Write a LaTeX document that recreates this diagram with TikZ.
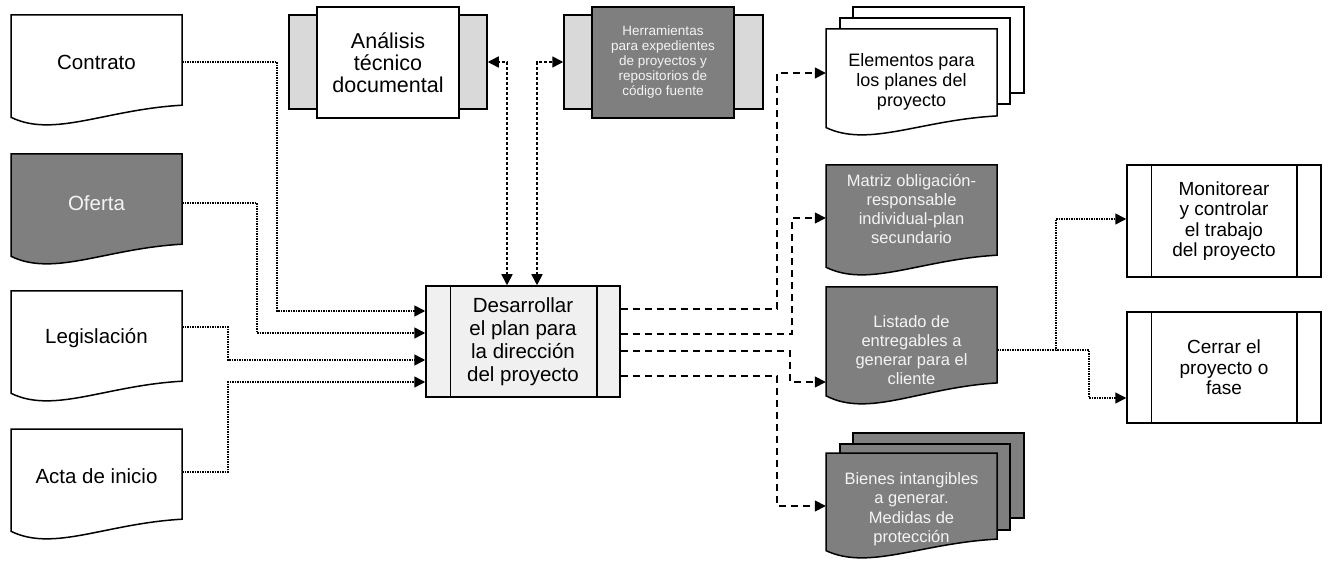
\documentclass[tikz,border=0pt]{standalone}
\usepackage{fontspec}
\setmainfont{Liberation Sans}
\usetikzlibrary{arrows.meta,calc}
\definecolor{dk}{HTML}{7F7F7F}
\definecolor{lt}{HTML}{D9D9D9}
\definecolor{pr}{HTML}{F0F0F0}
\definecolor{wt}{HTML}{F4F4F4}
\newcommand\fsA{\fontsize{20.5}{22}\selectfont}
\newcommand\fsB{\fontsize{21.5}{22}\selectfont}
\newcommand\fsH{\fontsize{13.5}{15}\selectfont}
\newcommand\fsP{\fontsize{20.5}{23}\selectfont}
\newcommand\fsE{\fontsize{18}{20}\selectfont}
\newcommand\fsM{\fontsize{16.5}{18.8}\selectfont}
\newcommand\fsBi{\fontsize{16.5}{19.5}\selectfont}
\newcommand\fsMo{\fontsize{19}{20.5}\selectfont}
\newcommand\docpath[5]{%
 \pgfmathsetmacro\dxb{#1+#3}%
 \pgfmathsetmacro\dyr{#2+0.82*#4}%
 \pgfmathsetmacro\dyl{#2+0.93*#4}%
 \pgfmathsetmacro\dcxa{#1+0.25*#3}%
 \pgfmathsetmacro\dcya{#2+1.12*#4}%
 \pgfmathsetmacro\dcxb{#1+0.55*#3}%
 \pgfmathsetmacro\dcyb{#2+0.86*#4}%
 \path[shapeline,fill=#5] (#1,#2) -- (\dxb,#2) -- (\dxb,\dyr) .. controls (\dcxb,\dcyb) and (\dcxa,\dcya) .. (#1,\dyl) -- cycle;}
\tikzset{
 shapeline/.style={draw=black, line width=1.5pt, line join=miter},
 boxn/.style={draw=black, line width=1.5pt, inner sep=0pt, align=center},
 docn/.style={inner sep=0pt, minimum width=171pt, align=center},
 dotarrow/.style={line width=1.5pt, dash pattern=on 1.4pt off 1.1pt, -{Triangle[length=11pt,width=11pt]}},
 dasharrow/.style={line width=1.6pt, dash pattern=on 7pt off 5pt, -{Triangle[length=11pt,width=11pt]}},
 sdash/.style={line width=1.6pt, dash pattern=on 3pt off 2pt, {Triangle[length=11pt,width=11pt]}-{Triangle[length=11pt,width=11pt]}}
}
\begin{document}
\begin{tikzpicture}[x=1pt,y=-1pt]
\useasboundingbox (0,0) rectangle (1330,561);
\fill[white] (0,0) rectangle (1330,561);
% left documents
\docpath{11}{15}{171}{110}{white}
\node[docn, font=\fsA] (contrato) at (96.5,62) {Contrato};
\docpath{11}{154}{171}{110}{dk}
\node[docn, font=\fsA, text=wt] (oferta) at (96.5,203) {Oferta};
\docpath{11}{291}{171}{110}{white}
\node[docn, font=\fsA] (legis) at (96.5,338) {Legislación};
\docpath{11}{429}{171}{110}{white}
\node[docn, font=\fsA] (acta) at (96.5,476) {Acta de inicio};
% top processes
\node[boxn, fill=lt, minimum width=198pt, minimum height=94pt] (anabg) at (388,62) {};
\node[boxn, fill=white, minimum width=142pt, minimum height=111pt, font=\fsB] (ana) at (388,62.5) {Análisis\\técnico\\documental};
\node[boxn, fill=lt, minimum width=199pt, minimum height=94pt] (herbg) at (663.5,62) {};
\node[boxn, fill=dk, text=wt, minimum width=142pt, minimum height=111pt, font=\fsH] (her) at (663,62.5) {Herramientas\\para expedientes\\de proyectos y\\repositorios de\\código fuente};
% central process
\node[boxn, fill=pr, minimum width=194pt, minimum height=111pt, font=\fsP] (proc) at (523,341.5) {Desarrollar\\el plan para\\la dirección\\del proyecto};
\draw[shapeline] ([xshift=25pt]proc.north west) -- ([xshift=25pt]proc.south west);
\draw[shapeline] ([xshift=-24pt]proc.north east) -- ([xshift=-24pt]proc.south east);
% right documents
\path[shapeline, fill=white] (853,7) rectangle (1024,93);
\path[shapeline, fill=white] (840,18) rectangle (1010,104);
\docpath{826}{29}{171}{106}{white}
\node[docn, font=\fsE] (elem) at (911.5,82) {Elementos para\\los planes del\\proyecto};
\docpath{826}{165}{171}{110}{dk}
\node[docn, font=\fsM, text=wt] (matriz) at (911.5,209) {Matriz obligación-\\responsable\\individual-plan\\secundario};
\docpath{826}{287}{171}{117}{dk}
\node[docn, font=\fsM, text=wt] (listado) at (911.5,350) {Listado de\\entregables a\\generar para el\\cliente};
\path[shapeline, fill=dk] (853,433) rectangle (1024,518);
\path[shapeline, fill=dk] (840,444) rectangle (1010,530);
\docpath{826}{453}{171}{105}{dk}
\node[docn, font=\fsBi, text=wt] (bienes) at (911.5,509) {Bienes intangibles\\a generar.\\Medidas de\\protección};
% far right processes
\node[boxn, fill=white, minimum width=194pt, minimum height=112pt, font=\fsMo] (moni) at (1224,221) {Monitorear\\y controlar\\el trabajo\\del proyecto};
\draw[shapeline] ([xshift=25pt]moni.north west) -- ([xshift=25pt]moni.south west);
\draw[shapeline] ([xshift=-25pt]moni.north east) -- ([xshift=-25pt]moni.south east);
\node[boxn, fill=white, minimum width=194pt, minimum height=111pt, font=\fsMo] (cerrar) at (1224,367.5) {Cerrar el\\proyecto o\\fase};
\draw[shapeline] ([xshift=25pt]cerrar.north west) -- ([xshift=25pt]cerrar.south west);
\draw[shapeline] ([xshift=-25pt]cerrar.north east) -- ([xshift=-25pt]cerrar.south east);
% inputs
\draw[dotarrow] (contrato.east) -- (277,62) -- (277,311) -- (proc.west |- 0,311);
\draw[dotarrow] (oferta.east) -- (257,203) -- (257,333) -- (proc.west |- 0,333);
\draw[dotarrow] ([yshift=11pt]legis.east) -- (228,327) -- (228,360) -- (proc.west |- 0,360);
\draw[dotarrow] ([yshift=4pt]acta.east) -- (228,472) -- (228,382) -- (proc.west |- 0,382);
% tools
\draw[sdash] (proc.north -| 507,0) -- (507,62) -- (anabg.east);
\draw[sdash] (proc.north -| 537,0) -- (537,62) -- (herbg.west);
% outputs
\draw[dasharrow] (proc.east |- 0,309) -- (777,309) -- (777,73) -- (elem.west |- 0,73);
\draw[dasharrow] (proc.east |- 0,334) -- (792,334) -- (792,218) -- (matriz.west |- 0,218);
\draw[dasharrow] (proc.east |- 0,351) -- (790,351) -- (790,382) -- (listado.west |- 0,382);
\draw[dasharrow] (proc.east |- 0,376) -- (777,376) -- (777,506) -- (bienes.west |- 0,506);
% next processes
\draw[dotarrow] (listado.east) -- (1056,350) -- (1056,219) -- (moni.west |- 0,219);
\draw[dotarrow] (listado.east) -- (1089,350) -- (1089,398) -- (cerrar.west |- 0,398);
\end{tikzpicture}
\end{document}
